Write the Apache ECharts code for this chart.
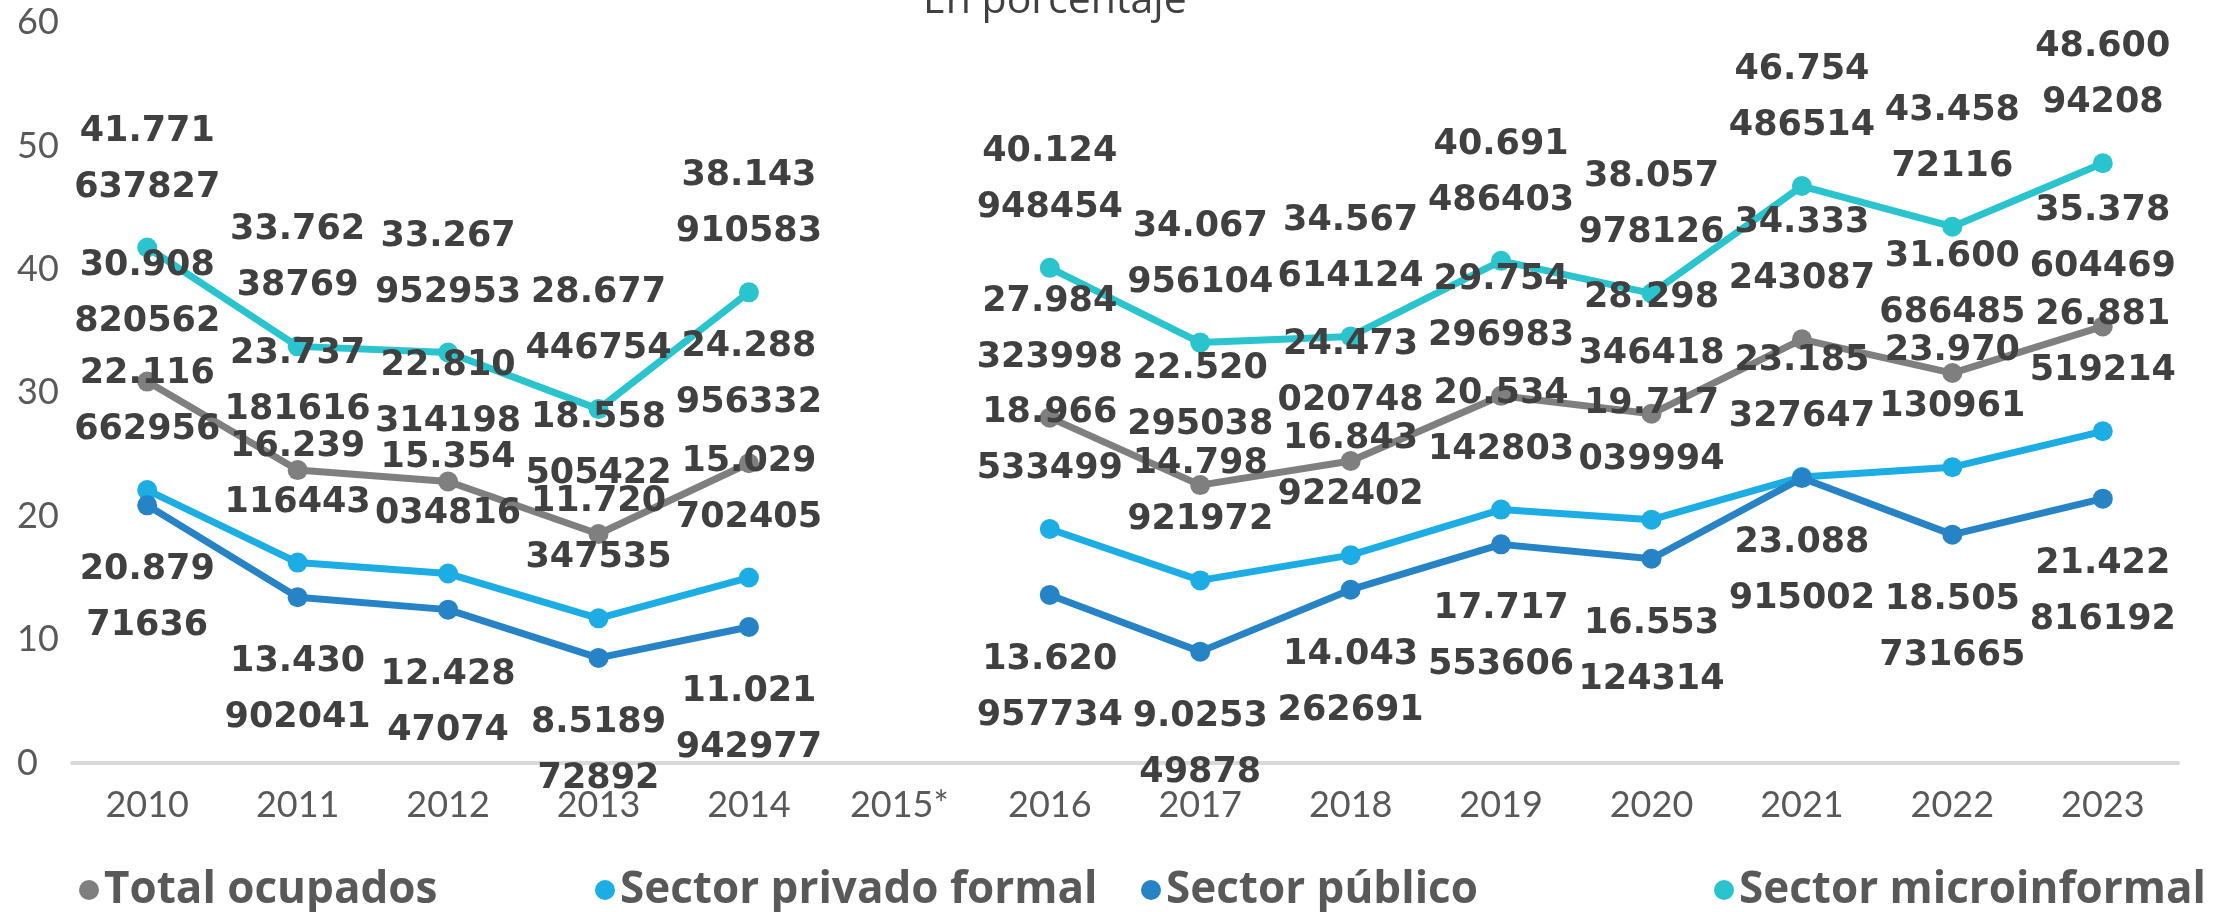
<!DOCTYPE html>
<html>
<head>
<meta charset="utf-8">
<script src="https://cdn.jsdelivr.net/npm/echarts@6/dist/echarts.min.js"></script>
<style>
html,body{margin:0;padding:0;background:#fff;}
#chart{width:2234px;height:912px;}
</style>
</head>
<body>
<div id="chart"></div>
<script>
const categories = ['2010','2011','2012','2013','2014','2015*','2016','2017','2018','2019','2020','2021','2022','2023'];
const totalOcupados = [30.908820562, 23.737181616, 22.810314198, 18.558505422, 24.288956332, null, 27.984323998, 22.520295038, 24.473020748, 29.754296983, 28.298346418, 34.333243087, 31.600686485, 35.378604469];
const sectorPrivadoFormal = [22.116662956, 16.239116443, 15.354034816, 11.720347535, 15.029702405, null, 18.966533499, 14.798921972, 16.843922402, 20.534142803, 19.717039994, 23.185327647, 23.970130961, 26.881519214];
const sectorPublico = [20.87971636, 13.430902041, 12.42847074, 8.518972892, 11.021942977, null, 13.620957734, 9.025349878, 14.043262691, 17.717553606, 16.553124314, 23.088915002, 18.505731665, 21.422816192];
const sectorMicroinformal = [41.771637827, 33.76238769, 33.267952953, 28.677446754, 38.143910583, null, 40.124948454, 34.067956104, 34.567614124, 40.691486403, 38.057978126, 46.754486514, 43.45872116, 48.60094208];
const seriesNames = ['Total ocupados', 'Sector privado formal', 'Sector público', 'Sector microinformal'];
const seriesColors = ['#7F7F7F', '#1CADE4', '#2683C6', '#29C4CD'];
const yTicks = [0, 10, 20, 30, 40, 50, 60];

const chart = echarts.init(document.getElementById('chart'));

function labelFmt(p) {
  const s = String(p.value);
  return s.slice(0, 6) + '\n' + s.slice(6);
}

function makeSeries(name, data, color, pos) {
  return {
    name: name,
    type: 'line',
    data: data,
    connectNulls: false,
    symbol: 'circle',
    symbolSize: 20,
    lineStyle: { color: color, width: 7 },
    itemStyle: { color: color },
    label: {
      show: true,
      position: pos,
      distance: pos === 'top' ? 22 : 27,
      formatter: labelFmt,
      fontFamily: 'DejaVu Sans',
      fontWeight: 'bold',
      fontSize: 35,
      lineHeight: 56,
      color: '#404040'
    },
    emphasis: { disabled: true },
    animation: false
  };
}

const legendLefts = [74, 590, 1136, 1709];

const option = {
  animation: false,
  backgroundColor: '#ffffff',
  title: {
    text: 'En porcentaje',
    left: 918,
    top: -24,
    textStyle: { fontFamily: 'Open Sans', fontWeight: 'normal', fontSize: 41, color: '#404040' }
  },
  legend: seriesNames.map((n, i) => ({
    data: [n],
    left: legendLefts[i],
    top: 863,
    icon: 'circle',
    itemWidth: 24,
    itemHeight: 20,
    itemGap: 0,
    textStyle: { fontFamily: 'Open Sans', fontWeight: 'bold', fontSize: 44, color: '#595959', padding: [0, 0, 0, -2] }
  })),
  grid: { left: 72, right: 56, top: 22.6, bottom: 149, containLabel: false },
  xAxis: {
    type: 'category',
    data: categories,
    boundaryGap: true,
    axisLine: { show: true, lineStyle: { color: '#D9D9D9', width: 4 } },
    axisTick: { show: false },
    axisLabel: { margin: 24, fontFamily: 'Lato', fontSize: 36, color: '#595959', interval: 0 },
    splitLine: { show: false }
  },
  yAxis: {
    type: 'value',
    min: yTicks[0],
    max: yTicks[yTicks.length - 1],
    interval: yTicks[1] - yTicks[0],
    axisLine: { show: false },
    axisTick: { show: false },
    splitLine: { show: false },
    axisLabel: { margin: 55, align: 'left', fontFamily: 'Lato', fontSize: 36, color: '#595959' }
  },
  series: [
    makeSeries(seriesNames[0], totalOcupados, seriesColors[0], 'top'),
    makeSeries(seriesNames[1], sectorPrivadoFormal, seriesColors[1], 'top'),
    makeSeries(seriesNames[2], sectorPublico, seriesColors[2], 'bottom'),
    makeSeries(seriesNames[3], sectorMicroinformal, seriesColors[3], 'top')
  ]
};
chart.setOption(option);
</script>
</body>
</html>
